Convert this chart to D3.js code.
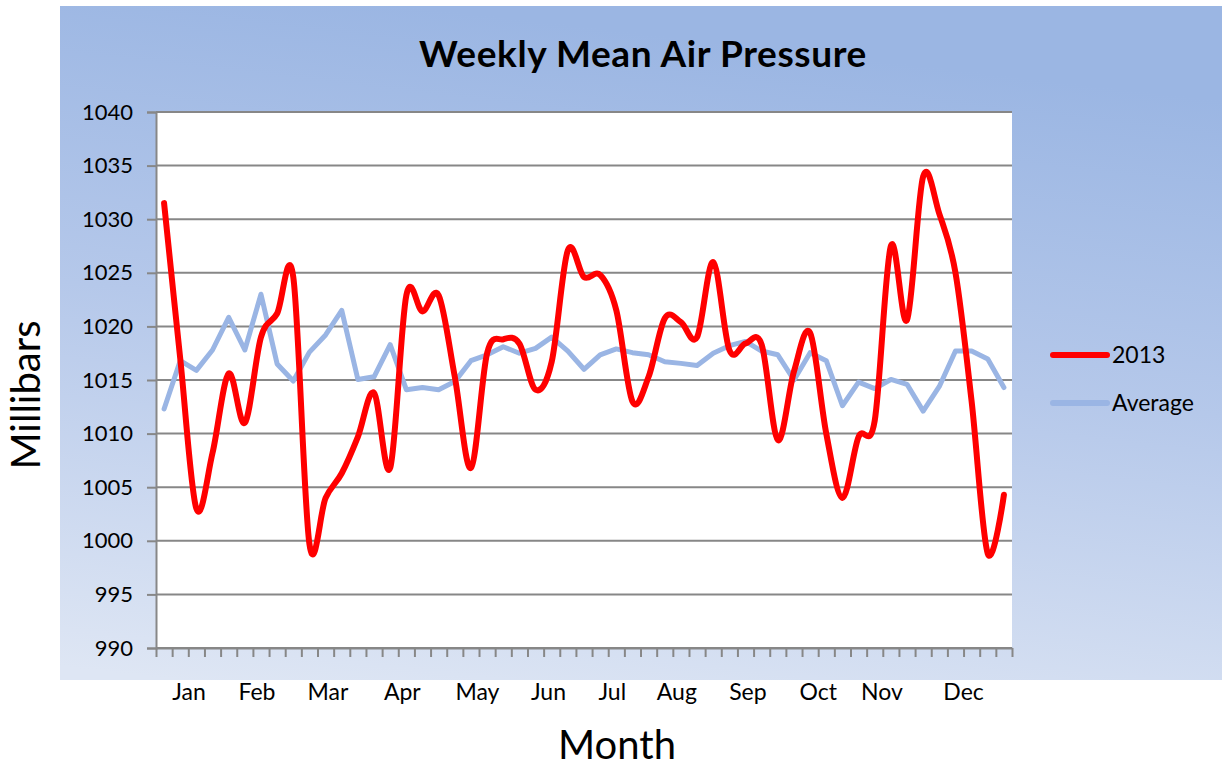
<!DOCTYPE html>
<html>
<head>
<meta charset="utf-8">
<script src="https://cdn.jsdelivr.net/npm/d3@7"></script>
<style>
  body { margin: 0; background: white; }
  text { font-family: Lato, "Open Sans", sans-serif; fill: #000; }
</style>
</head>
<body>
<div id="chart"></div>
<script>
// weekly values, 53 weeks
var pressure2013 = [1031.5, 1017.0, 1003.0, 1008.2, 1015.6, 1011.0, 1019.0, 1021.2, 1024.6, 999.7,
  1004.0, 1006.3, 1009.7, 1013.8, 1006.8, 1022.9, 1021.4, 1022.9, 1015.3, 1006.8,
  1017.5, 1018.8, 1018.4, 1014.1, 1016.7, 1027.1, 1024.6, 1024.8, 1021.5, 1013.0,
  1015.3, 1020.75, 1020.4, 1019.0, 1026.0, 1017.8, 1018.4, 1018.3, 1009.4, 1015.8,
  1019.4, 1010.0, 1004.0, 1009.7, 1011.2, 1027.5, 1020.6, 1034.0, 1030.5, 1025.0,
  1013.0, 998.8, 1004.3];

var pressureAvg = [1012.3, 1016.8, 1015.9, 1017.8, 1020.85, 1017.8, 1023.0, 1016.5, 1014.9, 1017.6,
  1019.2, 1021.5, 1015.05, 1015.3, 1018.3, 1014.1, 1014.3, 1014.1, 1014.85, 1016.8,
  1017.35, 1018.1, 1017.5, 1017.95, 1019.0, 1017.7, 1016.0, 1017.35, 1017.9, 1017.55,
  1017.35, 1016.7, 1016.55, 1016.35, 1017.5, 1018.2, 1018.6, 1017.7, 1017.35, 1015.0,
  1017.55, 1016.8, 1012.6, 1014.8, 1014.2, 1015.05, 1014.6, 1012.1, 1014.4, 1017.7,
  1017.7, 1016.95, 1014.3];

var monthNames = ["Jan", "Feb", "Mar", "Apr", "May", "Jun", "Jul", "Aug", "Sep", "Oct", "Nov", "Dec"];
// week (index) where each month label sits
var monthWeek = [1.55, 5.75, 10.15, 14.75, 19.4, 23.8, 27.75, 31.75, 36.15, 40.5, 44.45, 49.5];

var yTicks = d3.range(990, 1041, 5);

var svgWidth = 1222;
var svgHeight = 767;

var margin = {
  top: 112,
  right: 210,
  bottom: 119,
  left: 156
};

var width = svgWidth - margin.left - margin.right;
var height = svgHeight - margin.top - margin.bottom;

var svg = d3.select("#chart")
  .append("svg")
  .attr("width", svgWidth)
  .attr("height", svgHeight);

var defs = svg.append("defs");
var grad = defs.append("linearGradient")
  .attr("id", "bg")
  .attr("x1", "0.3").attr("y1", "0")
  .attr("x2", "0.1").attr("y2", "1");
grad.append("stop").attr("offset", "0").attr("stop-color", "#9bb6e3");
grad.append("stop").attr("offset", "0.45").attr("stop-color", "#b5c8ea");
grad.append("stop").attr("offset", "1").attr("stop-color", "#dee6f4");

// chart panel
svg.append("rect")
  .attr("x", 60)
  .attr("y", 6)
  .attr("width", svgWidth - 60)
  .attr("height", 674)
  .attr("fill", "url(#bg)");

var chartGroup = svg.append("g")
  .attr("transform", `translate(${margin.left}, ${margin.top})`);

chartGroup.append("rect")
  .attr("width", width)
  .attr("height", height)
  .attr("fill", "white");

var xScale = d3.scaleLinear()
  .domain([-0.5, pressure2013.length - 0.5])
  .range([0, width]);

var yScale = d3.scaleLinear()
  .domain([990, 1040])
  .range([height, 0]);

// gridlines
chartGroup.append("g")
  .selectAll("line")
  .data(yTicks)
  .enter()
  .append("line")
  .attr("x1", 0)
  .attr("x2", width)
  .attr("y1", d => yScale(d))
  .attr("y2", d => yScale(d))
  .attr("stroke", "#878787")
  .attr("stroke-width", 2);

var leftAxis = d3.axisLeft(yScale)
  .tickValues(yTicks)
  .tickSize(9)
  .tickPadding(14)
  .tickFormat(d3.format("d"));

var bottomAxis = d3.axisBottom(xScale)
  .tickValues(d3.range(pressure2013.length + 1).map(k => k - 0.5))
  .tickSize(9)
  .tickSizeOuter(0)
  .tickFormat("");

var yAxisG = chartGroup.append("g").call(leftAxis);
var xAxisG = chartGroup.append("g")
  .attr("transform", `translate(0, ${height})`)
  .call(bottomAxis);

[yAxisG, xAxisG].forEach(function(g) {
  g.selectAll("path, line").attr("stroke", "#878787").attr("stroke-width", 2);
});
yAxisG.selectAll("text")
  .attr("font-size", "22px")
  .attr("font-family", "Lato, sans-serif")
  .attr("fill", "#000");

// month labels
chartGroup.append("g")
  .selectAll("text")
  .data(monthNames)
  .enter()
  .append("text")
  .attr("x", (d, i) => xScale(monthWeek[i]))
  .attr("y", height + 52)
  .attr("text-anchor", "middle")
  .attr("font-size", "23px")
  .text(d => d);

var line2013 = d3.line()
  .x((d, i) => xScale(i))
  .y(d => yScale(d))
  .curve(d3.curveCardinal.tension(0));

var lineAvg = d3.line()
  .x((d, i) => xScale(i))
  .y(d => yScale(d));

chartGroup.append("path")
  .datum(pressureAvg)
  .attr("d", lineAvg)
  .attr("fill", "none")
  .attr("stroke", "#9ab5e4")
  .attr("stroke-width", 5)
  .attr("stroke-linejoin", "round")
  .attr("stroke-linecap", "round");

chartGroup.append("path")
  .datum(pressure2013)
  .attr("d", line2013)
  .attr("fill", "none")
  .attr("stroke", "#ff0000")
  .attr("stroke-width", 6)
  .attr("stroke-linejoin", "round")
  .attr("stroke-linecap", "round");

// title
svg.append("text")
  .attr("x", 643)
  .attr("y", 67)
  .attr("text-anchor", "middle")
  .attr("font-size", "37px")
  .attr("font-weight", "bold")
  .attr("letter-spacing", "0.6px")
  .text("Weekly Mean Air Pressure");

// axis titles
svg.append("text")
  .attr("transform", "translate(40, 395) rotate(-90)")
  .attr("text-anchor", "middle")
  .attr("font-size", "40px")
  .text("Millibars");

svg.append("text")
  .attr("x", 617)
  .attr("y", 759)
  .attr("text-anchor", "middle")
  .attr("font-size", "40px")
  .text("Month");

// legend
var legendItems = [
  { name: "2013", color: "#ff0000" },
  { name: "Average", color: "#9ab5e4" }
];
var legend = svg.append("g")
  .attr("transform", "translate(1053, 355)");
var legendRow = legend.selectAll("g")
  .data(legendItems)
  .enter()
  .append("g")
  .attr("transform", (d, i) => `translate(0, ${i * 48})`);
legendRow.append("line")
  .attr("x1", 0)
  .attr("x2", 54)
  .attr("stroke", d => d.color)
  .attr("stroke-width", 6)
  .attr("stroke-linecap", "round");
legendRow.append("text")
  .attr("x", 59)
  .attr("y", 8)
  .attr("font-size", "23px")
  .text(d => d.name);
</script>
</body>
</html>
